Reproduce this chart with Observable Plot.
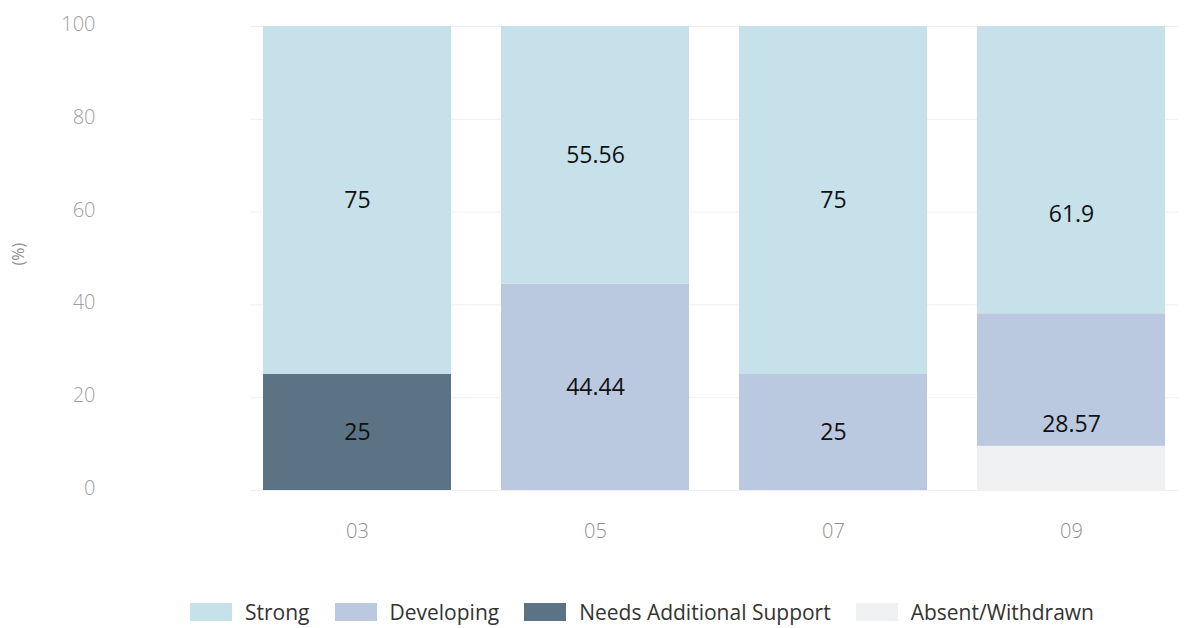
<!DOCTYPE html>
<html><head><meta charset="utf-8">
<script src="https://cdn.jsdelivr.net/npm/d3@7"></script>
<script src="https://cdn.jsdelivr.net/npm/@observablehq/plot@0.6"></script>
<style>
body{margin:0;background:#fff;font-family:"Open Sans",sans-serif;}
#wrap{position:relative;width:1184px;height:628px;}
#legend{position:absolute;left:190px;top:598px;display:flex;align-items:center;font-size:21px;color:#333;white-space:nowrap;}
#legend .it{display:flex;align-items:center;margin-right:25px;}
#legend .sw{width:42px;height:18px;margin-right:13px;}
</style></head>
<body><div id="wrap"><div id="chart"></div><div id="legend"></div></div>
<script>
const categories = ["03","05","07","09"];
const series = ["Absent/Withdrawn","Needs Additional Support","Developing","Strong"];
const legendOrder = ["Strong","Developing","Needs Additional Support","Absent/Withdrawn"];
const colors = {"Strong":"#c7e1ea","Developing":"#bac9df","Needs Additional Support":"#5b7385","Absent/Withdrawn":"#eff0f2"};
const strong = [75, 55.56, 75, 61.9];
const developing = [0, 44.44, 25, 28.57];
const needs = [25, 0, 0, 0];
const absent = [0, 0, 0, 9.52];
const yTicks = [0,20,40,60,80,100];

const valuesBySeries = {"Strong":strong,"Developing":developing,"Needs Additional Support":needs,"Absent/Withdrawn":absent};
const data = [];
for (const s of series) categories.forEach((c,i)=>{ if (valuesBySeries[s][i] > 0) data.push({cat:c, series:s, value:valuesBySeries[s][i]}); });

const stackOpts = {x:"cat", y:"value", z:"series", order: series};
const chart = Plot.plot({
  width:1184, height:560,
  marginLeft:250, marginRight:6, marginTop:26, marginBottom:70,
  style:{fontFamily:"'Open Sans',sans-serif", background:"#fff"},
  x:{domain:categories, paddingInner:0.21, paddingOuter:0.05, label:null},
  y:{domain:[0,100], label:null},
  color:{domain:series, range:series.map(s=>colors[s])},
  marks:[
    Plot.gridY(yTicks, {stroke:"#efefef", strokeOpacity:1}),
    Plot.barY(data, Plot.stackY({...stackOpts, fill:"series"})),
    Plot.text(data.filter(d=>d.series!=="Absent/Withdrawn"), Plot.stackY({...stackOpts, text:d=>String(d.value), fill:"#111", fontSize:23})),
    Plot.axisY(yTicks, {tickSize:0, tickPadding:155, fontSize:20, fontWeight:300, color:"#a0a0a0", label:null, dy:-2}),
    Plot.axisX({tickSize:0, tickPadding:33, fontSize:20, fontWeight:300, color:"#909090", label:null}),
    Plot.text(["(%)"], {frameAnchor:"left", dx:-232, dy:7, rotate:-90, fontSize:16, fill:"#909090"})
  ]
});
document.getElementById("chart").appendChild(chart);
const lg = document.getElementById("legend");
for (const s of legendOrder){
  const it = document.createElement("div"); it.className="it";
  const sw = document.createElement("div"); sw.className="sw"; sw.style.background=colors[s];
  const t = document.createElement("span"); t.textContent=s;
  it.appendChild(sw); it.appendChild(t); lg.appendChild(it);
}
</script></body></html>
